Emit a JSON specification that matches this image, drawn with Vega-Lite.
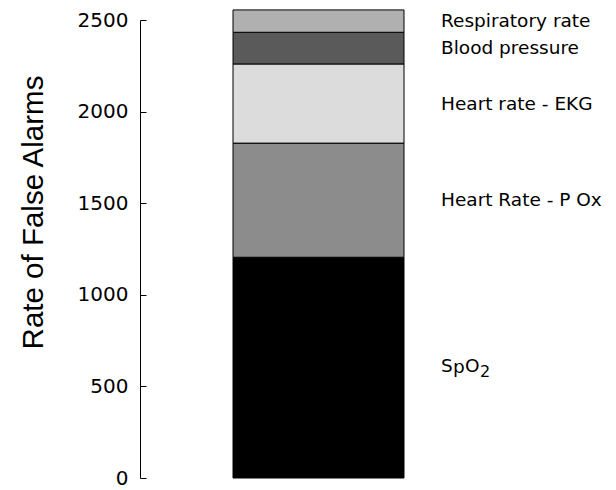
{
  "$schema": "https://vega.github.io/schema/vega-lite/v6.json",
  "width": 476,
  "height": 458,
  "autosize": "none",
  "padding": {"left": 140, "top": 20, "right": 0, "bottom": 12},
  "background": "white",
  "config": {"view": {"stroke": null}, "font": "DejaVu Sans"},
  "data": {
    "values": [
      {"group": "Alarms", "category": "SpO2", "label": "SpO2", "value": 1205, "rank": 1},
      {"group": "Alarms", "category": "Heart Rate - P Ox", "label": "Heart Rate - P Ox", "value": 623, "rank": 2},
      {"group": "Alarms", "category": "Heart rate - EKG", "label": "Heart rate - EKG", "value": 432, "rank": 3},
      {"group": "Alarms", "category": "Blood pressure", "label": "Blood pressure", "value": 173, "rank": 4},
      {"group": "Alarms", "category": "Respiratory rate", "label": "Respiratory rate", "value": 122, "rank": 5}
    ]
  },
  "transform": [
    {"stack": "value", "groupby": ["group"], "sort": [{"field": "rank", "order": "ascending"}], "as": ["v0", "v1"]},
    {"calculate": "(datum.v0 + datum.v1) / 2", "as": "mid"}
  ],
  "encoding": {
    "x": {
      "field": "group",
      "type": "nominal",
      "scale": {"range": [93, 264], "paddingInner": 0, "paddingOuter": 0},
      "axis": null
    }
  },
  "layer": [
    {
      "mark": {"type": "bar", "stroke": "black", "strokeWidth": 1},
      "encoding": {
        "y": {
          "field": "v0",
          "type": "quantitative",
          "scale": {"domain": [0, 2500], "nice": false, "zero": true},
          "axis": {
            "title": "Rate of False Alarms",
            "values": [0, 500, 1000, 1500, 2000, 2500],
            "format": "d",
            "grid": false,
            "tickSize": -6,
            "tickColor": "black",
            "domainColor": "black",
            "labelFont": "DejaVu Sans",
            "labelFontSize": 20,
            "labelColor": "black",
            "labelPadding": 18,
            "labelFlush": false,
            "labelOverlap": false,
            "titleFont": "Liberation Sans",
            "titleFontSize": 29.5,
            "titleFontWeight": "normal",
            "titleColor": "black",
            "titleAngle": -90,
            "titleBaseline": "alphabetic",
            "titleAlign": "center",
            "titleX": -98,
            "titleY": 192
          }
        },
        "y2": {"field": "v1"},
        "color": {
          "field": "category",
          "type": "nominal",
          "scale": {
            "domain": ["SpO2", "Heart Rate - P Ox", "Heart rate - EKG", "Blood pressure", "Respiratory rate"],
            "range": ["#000000", "#8c8c8c", "#dcdcdc", "#5a5a5a", "#b0b0b0"]
          },
          "legend": null
        }
      }
    },
    {
      "transform": [{"filter": "datum.rank > 1"}],
      "mark": {"type": "text", "align": "left", "baseline": "middle", "dx": 37, "fontSize": 18.5, "font": "DejaVu Sans", "color": "black"},
      "encoding": {
        "x": {"field": "group", "type": "nominal", "bandPosition": 1},
        "y": {"field": "mid", "type": "quantitative"},
        "text": {"field": "label"}
      }
    },
    {
      "transform": [{"filter": "datum.rank == 1"}],
      "mark": {"type": "text", "align": "left", "baseline": "alphabetic", "dx": 37, "dy": 4, "fontSize": 18.5, "font": "DejaVu Sans", "color": "black"},
      "encoding": {
        "x": {"field": "group", "type": "nominal", "bandPosition": 1},
        "y": {"field": "mid", "type": "quantitative"},
        "text": {"value": "S"}
      }
    },
    {
      "transform": [{"filter": "datum.rank == 1"}],
      "mark": {"type": "text", "align": "left", "baseline": "alphabetic", "dx": 49, "dy": 5, "fontSize": 18.5, "font": "DejaVu Sans", "color": "black"},
      "encoding": {
        "x": {"field": "group", "type": "nominal", "bandPosition": 1},
        "y": {"field": "mid", "type": "quantitative"},
        "text": {"value": "p"}
      }
    },
    {
      "transform": [{"filter": "datum.rank == 1"}],
      "mark": {"type": "text", "align": "left", "baseline": "alphabetic", "dx": 61, "dy": 4, "fontSize": 18.5, "font": "DejaVu Sans", "color": "black"},
      "encoding": {
        "x": {"field": "group", "type": "nominal", "bandPosition": 1},
        "y": {"field": "mid", "type": "quantitative"},
        "text": {"value": "O"}
      }
    },
    {
      "transform": [{"filter": "datum.rank == 1"}],
      "mark": {"type": "text", "align": "left", "baseline": "alphabetic", "dx": 76, "dy": 9, "fontSize": 16, "font": "DejaVu Sans", "color": "black"},
      "encoding": {
        "x": {"field": "group", "type": "nominal", "bandPosition": 1},
        "y": {"field": "mid", "type": "quantitative"},
        "text": {"value": "2"}
      }
    }
  ]
}
